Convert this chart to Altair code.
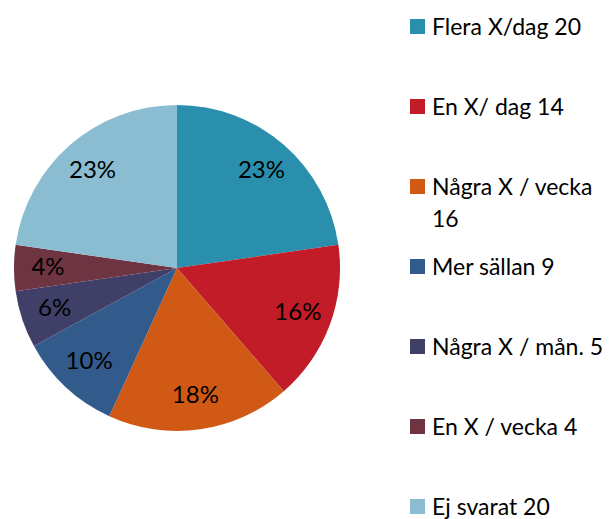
import textwrap
import altair as alt

# ---- data ----
names = ["Flera X/dag", "En X/ dag", "Några X / vecka", "Mer sällan",
         "Några X / mån.", "En X / vecka", "Ej svarat"]
counts = [20, 14, 16, 9, 5, 4, 20]
pct_labels = ["23%", "16%", "18%", "10%", "6%", "4%", "23%"]
colors = ["#2A8FAD", "#C11C27", "#D05916", "#325A8B", "#3F3F68", "#6E3441", "#8ABDD1"]

legend_labels = [f"{n} {c}" for n, c in zip(names, counts)]
rows = []
for i, (n, c, p, lab) in enumerate(zip(names, counts, pct_labels, legend_labels)):
    rows.append({"idx": i, "name": n, "count": c, "pct": p,
                 "lines": textwrap.wrap(lab, 17)})

data = alt.Data(values=rows)
FONT = "Lato"
CX, CY, R = 169, 260, 163

color_scale = alt.Scale(domain=names, range=colors)

base = alt.Chart(data)

pie = base.mark_arc(outerRadius=R, strokeWidth=0).encode(
    theta=alt.Theta("count:Q", stack=True),
    color=alt.Color("name:N", scale=color_scale, legend=None),
    order=alt.Order("idx:Q"),
    x=alt.value(CX),
    y=alt.value(CY),
)

pie_text = base.mark_text(radius=129, font=FONT, fontSize=24, color="#000000",
                          align="center", baseline="middle").encode(
    theta=alt.Theta("count:Q", stack=True),
    order=alt.Order("idx:Q"),
    text=alt.Text("pct:N"),
    x=alt.value(CX),
    y=alt.value(CY),
)

yscale = alt.Scale(domain=names, type="point", range=[18.5, 498.5], padding=0)

leg_sq = base.mark_square(size=225, opacity=1).encode(
    x=alt.value(409.5),
    y=alt.Y("name:N", scale=yscale, axis=None),
    color=alt.Color("name:N", scale=color_scale, legend=None),
)

leg_txt = base.mark_text(align="left", baseline="top", dy=-10, font=FONT,
                         fontSize=23, lineHeight=32, color="#000000").encode(
    x=alt.value(424),
    y=alt.Y("name:N", scale=yscale, axis=None),
    text=alt.Text("lines:N"),
)

chart = alt.layer(pie, pie_text, leg_sq, leg_txt).properties(
    width=598, height=511,
    autosize=alt.AutoSizeParams(type="none"),
    padding=0,
    background="#FFFFFF",
).configure_view(strokeWidth=0)

chart.save("out.html", embed_options={"renderer": "svg", "actions": False})
